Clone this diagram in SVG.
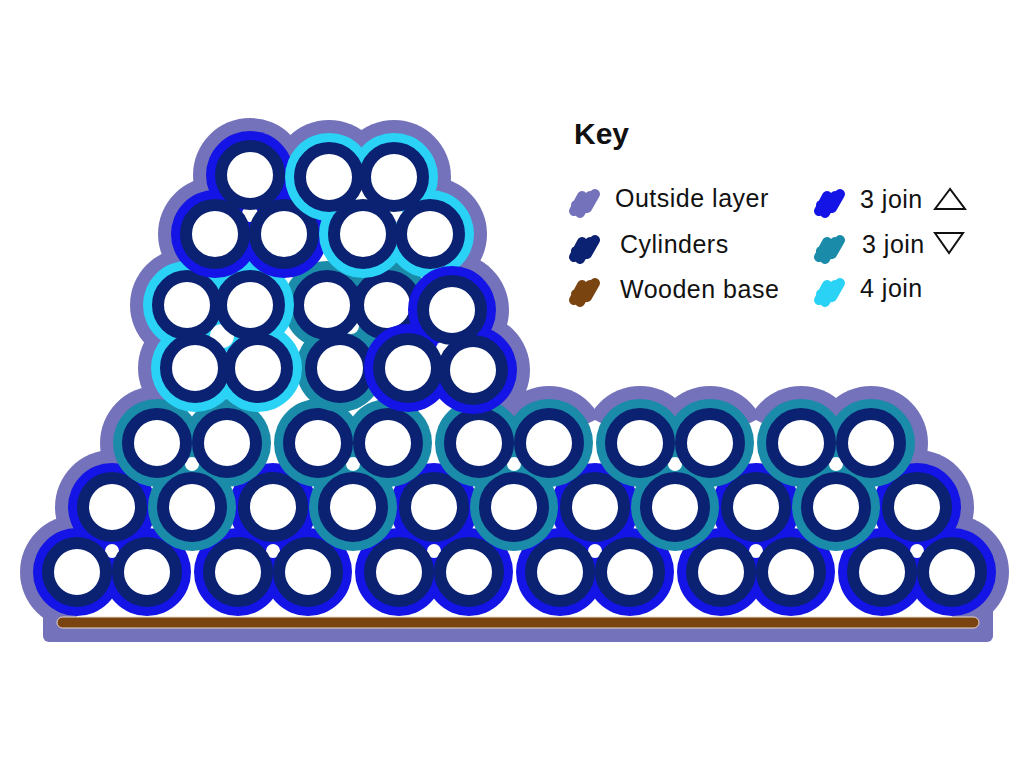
<svg xmlns="http://www.w3.org/2000/svg" xmlns:xlink="http://www.w3.org/1999/xlink" width="1024" height="768" viewBox="0 0 1024 768">
<style>
.lav{fill:#7472ba}
.blu{fill:#1414e6}
.tea{fill:#1a8ba8}
.cya{fill:#2ad3f5}
.gap{fill:#ffffff}
.nav{fill:#ffffff;stroke:#0b2171;stroke-width:12}
.lbl{font-family:"Liberation Sans",Arial,sans-serif;font-size:25px;fill:#111111;letter-spacing:0.5px}
.key{font-family:"Liberation Sans",Arial,sans-serif;font-size:30px;font-weight:bold;fill:#111111}
.tri{fill:none;stroke:#111111;stroke-width:2;stroke-linejoin:miter}
</style>
<defs>
<path id="scribble" d="M6,26 L14,11 M12,28 L22,11 M19,23 L27,9 M8,20 L20,15" fill="none" stroke-width="10" stroke-linecap="round" stroke-linejoin="round"/>
</defs>
<rect width="1024" height="768" fill="#ffffff"/>

<g id="outside-layer">
<g class="lav">
<rect x="43" y="595" width="950" height="47" rx="6"/>
<circle cx="77" cy="572" r="57"/><circle cx="147" cy="572" r="57"/><circle cx="238" cy="572" r="57"/><circle cx="308" cy="572" r="57"/><circle cx="399" cy="572" r="57"/><circle cx="469" cy="572" r="57"/><circle cx="560" cy="572" r="57"/><circle cx="630" cy="572" r="57"/><circle cx="721" cy="572" r="57"/><circle cx="791" cy="572" r="57"/><circle cx="882" cy="572" r="57"/><circle cx="952" cy="572" r="57"/>
<circle cx="112" cy="507" r="57"/><circle cx="917" cy="507" r="57"/>
<circle cx="157" cy="443" r="57"/><circle cx="227" cy="443" r="57"/><circle cx="318" cy="443" r="57"/><circle cx="388" cy="443" r="57"/><circle cx="479" cy="443" r="57"/><circle cx="549" cy="443" r="57"/><circle cx="640" cy="443" r="57"/><circle cx="710" cy="443" r="57"/><circle cx="801" cy="443" r="57"/><circle cx="871" cy="443" r="57"/>
<circle cx="187" cy="305" r="57"/><circle cx="195" cy="368" r="57"/><circle cx="215" cy="234" r="57"/><circle cx="250" cy="175" r="57"/><circle cx="329" cy="177" r="57"/><circle cx="394" cy="177" r="57"/><circle cx="430" cy="234" r="57"/><circle cx="452" cy="310" r="57"/><circle cx="473" cy="370" r="57"/><circle cx="408" cy="368" r="57"/>
</g>
<polygon class="gap" points="77,618 77,572 112,507 157,443 195,368 187,305 215,234 250,175 329,177 394,177 430,234 452,310 473,370 479,443 549,443 595,420 640,443 710,443 756,420 801,443 871,443 917,507 952,572 952,618"/>
</g>

<g id="wooden-base">
<rect x="57" y="617" width="922" height="11" rx="5.5" fill="#7a4410" stroke="#e9dccb" stroke-width="1"/>
</g>

<g id="join-b1">
<g class="blu"><circle cx="77" cy="572" r="44"/><circle cx="147" cy="572" r="44"/><circle cx="112" cy="507" r="44"/></g>
<circle class="gap" cx="112" cy="551" r="7"/>
<circle class="nav" cx="77" cy="572" r="29"/><circle class="nav" cx="147" cy="572" r="29"/><circle class="nav" cx="112" cy="507" r="29"/>
</g>
<g id="join-b2">
<g class="blu"><circle cx="238" cy="572" r="44"/><circle cx="308" cy="572" r="44"/><circle cx="273" cy="507" r="44"/></g>
<circle class="gap" cx="273" cy="551" r="7"/>
<circle class="nav" cx="238" cy="572" r="29"/><circle class="nav" cx="308" cy="572" r="29"/><circle class="nav" cx="273" cy="507" r="29"/>
</g>
<g id="join-b3">
<g class="blu"><circle cx="399" cy="572" r="44"/><circle cx="469" cy="572" r="44"/><circle cx="434" cy="507" r="44"/></g>
<circle class="gap" cx="434" cy="551" r="7"/>
<circle class="nav" cx="399" cy="572" r="29"/><circle class="nav" cx="469" cy="572" r="29"/><circle class="nav" cx="434" cy="507" r="29"/>
</g>
<g id="join-b4">
<g class="blu"><circle cx="560" cy="572" r="44"/><circle cx="630" cy="572" r="44"/><circle cx="595" cy="507" r="44"/></g>
<circle class="gap" cx="595" cy="551" r="7"/>
<circle class="nav" cx="560" cy="572" r="29"/><circle class="nav" cx="630" cy="572" r="29"/><circle class="nav" cx="595" cy="507" r="29"/>
</g>
<g id="join-b5">
<g class="blu"><circle cx="721" cy="572" r="44"/><circle cx="791" cy="572" r="44"/><circle cx="756" cy="507" r="44"/></g>
<circle class="gap" cx="756" cy="551" r="7"/>
<circle class="nav" cx="721" cy="572" r="29"/><circle class="nav" cx="791" cy="572" r="29"/><circle class="nav" cx="756" cy="507" r="29"/>
</g>
<g id="join-b6">
<g class="blu"><circle cx="882" cy="572" r="44"/><circle cx="952" cy="572" r="44"/><circle cx="917" cy="507" r="44"/></g>
<circle class="gap" cx="917" cy="551" r="7"/>
<circle class="nav" cx="882" cy="572" r="29"/><circle class="nav" cx="952" cy="572" r="29"/><circle class="nav" cx="917" cy="507" r="29"/>
</g>

<g id="join-t1">
<g class="tea"><circle cx="157" cy="443" r="44"/><circle cx="227" cy="443" r="44"/><circle cx="192" cy="507" r="44"/></g>
<circle class="gap" cx="192" cy="464" r="7"/>
<circle class="nav" cx="157" cy="443" r="29"/><circle class="nav" cx="227" cy="443" r="29"/><circle class="nav" cx="192" cy="507" r="29"/>
</g>
<g id="join-t2">
<g class="tea"><circle cx="318" cy="443" r="44"/><circle cx="388" cy="443" r="44"/><circle cx="353" cy="507" r="44"/></g>
<circle class="gap" cx="353" cy="464" r="7"/>
<circle class="nav" cx="318" cy="443" r="29"/><circle class="nav" cx="388" cy="443" r="29"/><circle class="nav" cx="353" cy="507" r="29"/>
</g>
<g id="join-t3">
<g class="tea"><circle cx="479" cy="443" r="44"/><circle cx="549" cy="443" r="44"/><circle cx="514" cy="507" r="44"/></g>
<circle class="gap" cx="514" cy="464" r="7"/>
<circle class="nav" cx="479" cy="443" r="29"/><circle class="nav" cx="549" cy="443" r="29"/><circle class="nav" cx="514" cy="507" r="29"/>
</g>
<g id="join-t4">
<g class="tea"><circle cx="640" cy="443" r="44"/><circle cx="710" cy="443" r="44"/><circle cx="675" cy="507" r="44"/></g>
<circle class="gap" cx="675" cy="464" r="7"/>
<circle class="nav" cx="640" cy="443" r="29"/><circle class="nav" cx="710" cy="443" r="29"/><circle class="nav" cx="675" cy="507" r="29"/>
</g>
<g id="join-t5">
<g class="tea"><circle cx="801" cy="443" r="44"/><circle cx="871" cy="443" r="44"/><circle cx="836" cy="507" r="44"/></g>
<circle class="gap" cx="836" cy="464" r="7"/>
<circle class="nav" cx="801" cy="443" r="29"/><circle class="nav" cx="871" cy="443" r="29"/><circle class="nav" cx="836" cy="507" r="29"/>
</g>

<g id="join-tower-teal">
<g class="tea"><circle cx="327" cy="305" r="44"/><circle cx="387" cy="305" r="44"/><circle cx="340" cy="368" r="44"/></g>
<circle class="gap" cx="351" cy="326" r="8"/>
<circle class="nav" cx="327" cy="305" r="29"/><circle class="nav" cx="387" cy="305" r="29"/><circle class="nav" cx="340" cy="368" r="29"/>
</g>
<g id="join-tower-cyan-left">
<g class="cya"><circle cx="187" cy="305" r="44"/><circle cx="250" cy="305" r="44"/><circle cx="195" cy="368" r="44"/><circle cx="258" cy="368" r="44"/></g>
<circle class="gap" cx="222" cy="336" r="12"/>
<circle class="nav" cx="187" cy="305" r="29"/><circle class="nav" cx="250" cy="305" r="29"/><circle class="nav" cx="195" cy="368" r="29"/><circle class="nav" cx="258" cy="368" r="29"/>
</g>
<g id="join-tower-blue-top">
<g class="blu"><circle cx="250" cy="175" r="44"/><circle cx="215" cy="234" r="44"/><circle cx="284" cy="234" r="44"/></g>
<circle class="gap" cx="250" cy="214" r="8"/>
<circle class="nav" cx="250" cy="175" r="29"/><circle class="nav" cx="215" cy="234" r="29"/><circle class="nav" cx="284" cy="234" r="29"/>
</g>
<g id="join-tower-cyan-top">
<g class="cya"><circle cx="329" cy="177" r="44"/><circle cx="394" cy="177" r="44"/><circle cx="363" cy="234" r="44"/><circle cx="430" cy="234" r="44"/></g>
<circle class="gap" cx="362" cy="196" r="7"/><circle class="gap" cx="396" cy="215" r="7"/>
<circle class="nav" cx="329" cy="177" r="29"/><circle class="nav" cx="394" cy="177" r="29"/><circle class="nav" cx="363" cy="234" r="29"/><circle class="nav" cx="430" cy="234" r="29"/>
</g>
<g id="join-tower-blue-right">
<g class="blu"><circle cx="452" cy="310" r="44"/><circle cx="408" cy="368" r="44"/><circle cx="473" cy="370" r="44"/></g>
<circle class="gap" cx="444" cy="349" r="8"/>
<circle class="nav" cx="452" cy="310" r="29"/><circle class="nav" cx="408" cy="368" r="29"/><circle class="nav" cx="473" cy="370" r="29"/>
</g>

<g id="key">
<text class="key" x="574" y="144">Key</text>
<use xlink:href="#scribble" href="#scribble" transform="translate(568,185)" stroke="#7472ba"/>
<text class="lbl" x="615" y="207">Outside layer</text>
<use xlink:href="#scribble" href="#scribble" transform="translate(568,231)" stroke="#0b2171"/>
<text class="lbl" x="620" y="253">Cylinders</text>
<use xlink:href="#scribble" href="#scribble" transform="translate(568,274)" stroke="#7a4410"/>
<text class="lbl" x="620" y="298">Wooden base</text>
<use xlink:href="#scribble" href="#scribble" transform="translate(813,185)" stroke="#1414e6"/>
<text class="lbl" x="860" y="208">3 join</text>
<polygon class="tri" points="950,189 935,209 965,209"/>
<use xlink:href="#scribble" href="#scribble" transform="translate(813,231)" stroke="#1a8ba8"/>
<text class="lbl" x="862" y="253">3 join</text>
<polygon class="tri" points="935,233 963,233 949,253"/>
<use xlink:href="#scribble" href="#scribble" transform="translate(813,274)" stroke="#2ad3f5"/>
<text class="lbl" x="860" y="297">4 join</text>
</g>
</svg>
